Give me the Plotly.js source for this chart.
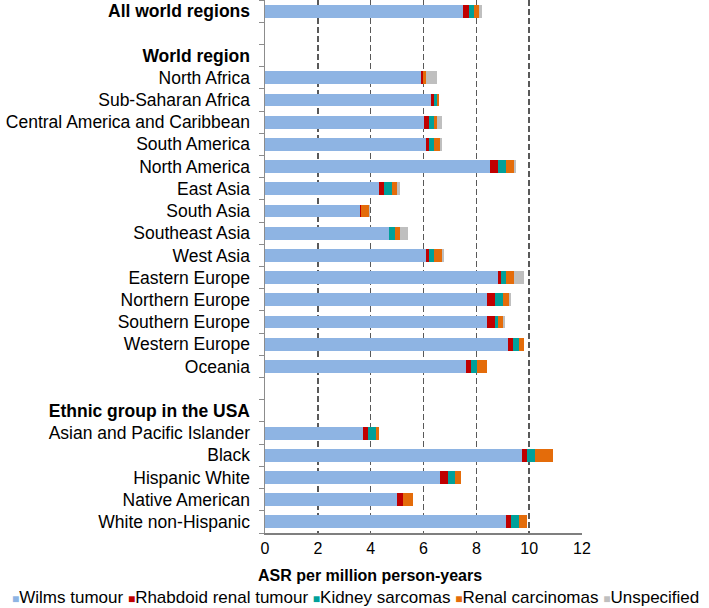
<!DOCTYPE html>
<html>
<head>
<meta charset="utf-8">
<script src="https://cdn.plot.ly/plotly-3.0.1.min.js"></script>
<style>html,body{margin:0;padding:0;background:#fff;}#chart{width:709px;height:608px;}</style>
</head>
<body>
<div id="chart"></div>
<script>
// Row keys (top to bottom) and their displayed labels
const rowKeys = ["all","gap1","hdrWorld","North Africa","Sub-Saharan Africa","Central America and Caribbean","South America","North America","East Asia","South Asia","Southeast Asia","West Asia","Eastern Europe","Northern Europe","Southern Europe","Western Europe","Oceania","gap2","hdrEthnic","Asian and Pacific Islander","Black","Hispanic White","Native American","White non-Hispanic"];
const rowLabels = ["<b>All world regions</b>","","<b>World region</b>","North Africa","Sub-Saharan Africa","Central America and Caribbean","South America","North America","East Asia","South Asia","Southeast Asia","West Asia","Eastern Europe","Northern Europe","Southern Europe","Western Europe","Oceania","","<b>Ethnic group in the USA</b>","Asian and Pacific Islander","Black","Hispanic White","Native American","White non-Hispanic"];

// Rows that carry data
const dataRows = ["all","North Africa","Sub-Saharan Africa","Central America and Caribbean","South America","North America","East Asia","South Asia","Southeast Asia","West Asia","Eastern Europe","Northern Europe","Southern Europe","Western Europe","Oceania","Asian and Pacific Islander","Black","Hispanic White","Native American","White non-Hispanic"];

const wilms      = [7.51,5.90,6.30,6.01,6.11,8.52,4.31,3.61,4.70,6.11,8.81,8.41,8.41,9.21,7.61,3.71,9.72,6.61,5.00,9.11];
const rhabdoid   = [0.20,0.09,0.09,0.19,0.09,0.29,0.19,0.03,0.00,0.09,0.11,0.30,0.30,0.19,0.20,0.20,0.20,0.31,0.21,0.20];
const sarcomas   = [0.19,0.00,0.11,0.20,0.21,0.31,0.30,0.00,0.21,0.21,0.20,0.30,0.10,0.22,0.20,0.30,0.30,0.29,0.00,0.30];
const carcinomas = [0.21,0.11,0.10,0.10,0.20,0.29,0.20,0.28,0.19,0.29,0.29,0.21,0.20,0.18,0.39,0.10,0.69,0.20,0.40,0.30];
const unspecified= [0.10,0.40,0.00,0.21,0.09,0.11,0.10,0.05,0.30,0.08,0.41,0.10,0.09,0.00,0.00,0.00,0.00,0.00,0.00,0.00];

const seriesNames = ["Wilms tumour","Rhabdoid renal tumour","Kidney sarcomas","Renal carcinomas","Unspecified"];
const seriesValues = [wilms, rhabdoid, sarcomas, carcinomas, unspecified];
const colors = ["#8EB4E3","#C00000","#00A09A","#E46C0A","#BFBFBF"];

const traces = seriesNames.map((name, i) => ({
  type: "bar",
  orientation: "h",
  name: name,
  y: dataRows,
  x: seriesValues[i],
  marker: {color: colors[i], line: {width: 0}},
  showlegend: false,
  hoverinfo: "x+y+name"
}));

const font = "Liberation Sans, Arial, sans-serif";

const legendText = seriesNames.map((n, i) =>
  '<span style="color:' + colors[i] + ';font-size:12px">■</span>' + n
).join(' ');

const layout = {
  width: 709,
  height: 608,
  margin: {l: 265, r: 127, t: 0, b: 75},
  barmode: "stack",
  bargap: 0.42,
  paper_bgcolor: "#fff",
  plot_bgcolor: "#fff",
  font: {family: font, color: "#000", size: 16},
  xaxis: {
    range: [0, 12],
    dtick: 2,
    tick0: 0,
    showgrid: true,
    gridcolor: "#595959",
    griddash: "6px,3px",
    gridwidth: 1.5,
    zeroline: false,
    showline: true,
    linecolor: "#7f7f7f",
    linewidth: 2,
    ticks: "",
    tickfont: {size: 16, family: font, color: "#000"},
    fixedrange: true
  },
  yaxis: {
    type: "category",
    categoryorder: "array",
    categoryarray: rowKeys,
    tickvals: rowKeys,
    ticktext: rowLabels,
    autorange: "reversed",
    showgrid: false,
    zeroline: false,
    showline: true,
    linecolor: "#8c8c8c",
    linewidth: 1.5,
    ticks: "outside",
    tickson: "boundaries",
    ticklen: 5,
    tickcolor: "#8c8c8c",
    tickwidth: 1,
    ticklabelstandoff: 10,
    tickfont: {size: 17.5, family: font, color: "#000"},
    fixedrange: true
  },
  annotations: [{
    xref: "paper", yref: "paper",
    x: 0.331, y: -0.079,
    xanchor: "center", yanchor: "middle",
    showarrow: false,
    text: "<b>ASR per million person-years</b>",
    font: {size: 16, family: font, color: "#000"}
  }, {
    xref: "paper", yref: "paper",
    x: 0.285, y: -0.121,
    xanchor: "center", yanchor: "middle",
    showarrow: false,
    text: legendText,
    font: {size: 17, family: font, color: "#000"}
  }]
};

Plotly.newPlot("chart", traces, layout, {displayModeBar: false, staticPlot: true});
</script>
</body>
</html>
